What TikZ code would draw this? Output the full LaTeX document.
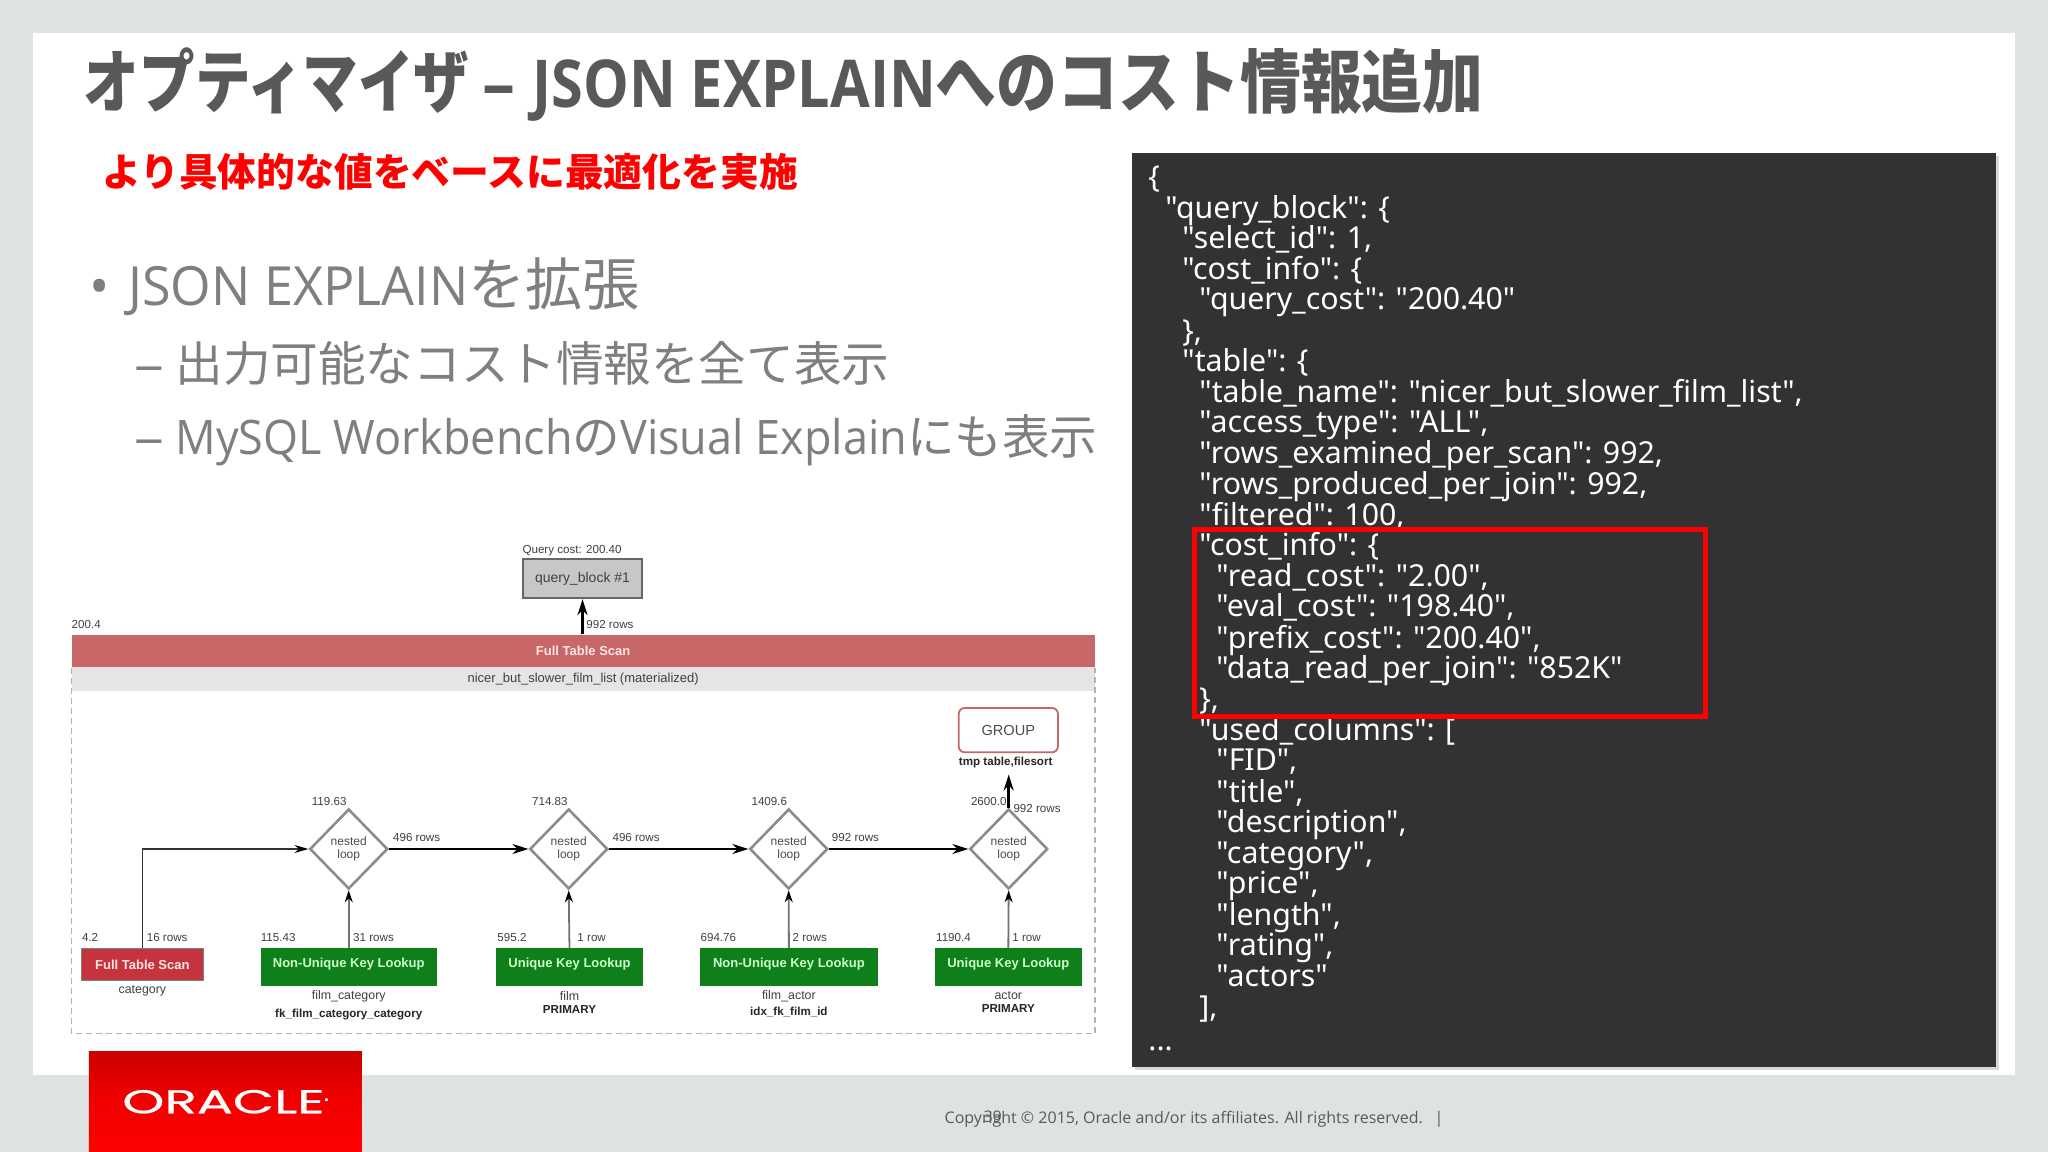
\documentclass[tikz,border=0pt]{standalone}
\usepackage{xcolor}
\usepackage{graphicx}
\usepackage{fontspec}
\setmainfont{Open Sans}
\newfontfamily\cjk{Noto Sans CJK JP}
\newfontfamily\codefont{Noto Sans}
\newfontfamily\planfont{Liberation Sans}
\newfontfamily\logofont[FakeBold=0.7]{Poppins}
\usetikzlibrary{shapes.geometric, arrows.meta, shadows}
\definecolor{pagegray}{HTML}{DDE2E2}
\definecolor{titlegray}{HTML}{595959}
\definecolor{bodygray}{HTML}{7F7F7F}
\definecolor{panelgray}{HTML}{323234}
\definecolor{scanrose}{HTML}{C76768}
\definecolor{scanred}{HTML}{C5343C}
\definecolor{keygreen}{HTML}{0F7F1A}
\tikzstyle{code} = [anchor=base west, inner sep=0pt, text=white, yshift=-0.8pt, font=\codefont\fontsize{15.15}{17}\selectfont]
\tikzstyle{small} = [inner sep=0pt, yshift=-0.6pt, text=black!75, font=\planfont\fontsize{5.8}{6.5}\selectfont]
\tikzstyle{smallbold} = [small, font=\planfont\bfseries\fontsize{5.8}{6.5}\selectfont, text=black!85]
\tikzstyle{loop} = [diamond, aspect=1, inner sep=0pt, minimum width=39pt, minimum height=40pt, align=center, draw=black!45, line width=1.3pt, fill=white, text=black!70, font=\planfont\fontsize{6}{6.2}\selectfont]
\tikzstyle{lookup} = [rectangle, inner sep=0pt, minimum height=19pt, text height=4.5pt, text depth=4.5pt, draw=none, fill=keygreen, text=green!20, font=\planfont\bfseries\fontsize{6.5}{7}\selectfont]
\tikzstyle{arrow} = [line width=1.4pt, -{Stealth[length=8pt, width=5pt]}]
\tikzstyle{feed} = [line width=0.9pt, draw=black!55, -{Stealth[black, length=6pt, width=4pt]}]
\tikzstyle{thinfeed} = [line width=0.7pt, draw=black!80, -{Stealth[black, length=7pt, width=4pt]}]
\tikzstyle{framed} = [densely dashed, draw=black!30, line width=0.7pt]
\begin{document}
\begin{tikzpicture}[x=0.6531pt, y=-0.6531pt, node distance=110pt]
      \useasboundingbox (0,0) rectangle (1568,882);
      \fill [pagegray] (0,0) rectangle (1568,882);
      \fill [white] (25,25) rectangle (1543,823);

      \node (title) [anchor=base west, inner sep=0pt, text=titlegray] at (64,82) {\fontsize{33}{36}\selectfont\bfseries\scalebox{0.805}[1]{\cjk\fontsize{34.5}{36}\selectfont オプティマイザ}\hspace{6.5pt}–\hspace{8.5pt}\scalebox{0.873}[1]{JSON EXPLAIN}\scalebox{0.882}[1]{\cjk\fontsize{34.5}{36}\selectfont へのコスト情報追加}};
      \node (lead) [anchor=base west, inner sep=0pt, text=red, font=\cjk\bfseries\fontsize{19.4}{22}\selectfont] at (78,143) {より具体的な値をベースに最適化を実施};
      \node (bulletA) [anchor=base west, inner sep=0pt, text=bodygray] at (68,234) {\fontsize{27}{30}\selectfont •};
      \node (itemA) [anchor=base west, inner sep=0pt, text=bodygray] at (98,234) {\fontsize{27}{30}\selectfont\scalebox{0.965}[1]{JSON EXPLAIN}{\cjk\fontsize{28.5}{30}\selectfont を拡張}};
      \node (dashB) [anchor=base west, inner sep=0pt, text=bodygray] at (103,292) {\fontsize{23.8}{26}\selectfont\scalebox{1.25}[1]{–}};
      \node (itemB) [anchor=base west, inner sep=0pt, text=bodygray, font=\cjk\fontsize{23.8}{26}\selectfont] at (134,292) {出力可能なコスト情報を全て表示};
      \node (dashC) [anchor=base west, inner sep=0pt, text=bodygray] at (103,348) {\fontsize{23.8}{26}\selectfont\scalebox{1.25}[1]{–}};
      \node (itemC) [anchor=base west, inner sep=0pt, text=bodygray] at (134,348) {\fontsize{23.8}{26}\selectfont\scalebox{0.945}[1]{MySQL Workbench}{\cjk の}\scalebox{0.945}[1]{Visual Explain}{\cjk にも表示}};

      \node (qcost) [small] at (438,421) {Query cost: 200.40};
      \node (qblock) [rectangle, inner sep=0pt, minimum width=59.5pt, minimum height=19.6pt, draw=black!60, line width=0.9pt, fill=black!22, text=black!75, font=\planfont\fontsize{7}{8}\selectfont] at (446,443) {query\_block \#1};
      \node (bar) [rectangle, inner sep=0pt, minimum width=511.4pt, minimum height=16.3pt, fill=scanrose, text=red!10, font=\planfont\bfseries\fontsize{6.5}{7}\selectfont] at (446.5,498.5) {Full Table Scan};
      \node (subbar) [rectangle, inner sep=0pt, minimum width=511.4pt, minimum height=11.8pt, fill=black!10, text=black!75, font=\planfont\fontsize{6.5}{7}\selectfont] at (446.5,520) {nicer\_but\_slower\_film\_list (materialized)};
      \draw [framed] (bar.south west) -- ++(0,280) -| (bar.south east);
      \node (barcost) [small] at (66,477) {200.4};
      \node (barrows) [small] at (467,477) {992 rows};

      \node (group) [rectangle, rounded corners=3pt, inner sep=0pt, minimum width=49.6pt, minimum height=22.2pt, draw=scanrose, line width=0.9pt, fill=white, text=black!70, font=\planfont\fontsize{7.3}{8}\selectfont] at (772,559) {GROUP};
      \node (grouptxt) [smallbold] at (770,583) {tmp table,filesort};

      \node (loopA) [loop] at (267,650) {nested\\loop};
      \node (loopB) [loop, right of=loopA] {nested\\loop};
      \node (loopC) [loop, right of=loopB] {nested\\loop};
      \node (loopD) [loop, right of=loopC] {nested\\loop};
      \node (costA) [small] at (252,613) {119.63};
      \node (costB) [small] at (421,613) {714.83};
      \node (costC) [small] at (589,613) {1409.6};
      \node (costD) [small] at (757,613) {2600.0};
      \node (rowsA) [small] at (319,640) {496 rows};
      \node (rowsB) [small] at (487,640) {496 rows};
      \node (rowsC) [small] at (655,640) {992 rows};
      \node (rowsD) [small] at (794,618) {992 rows};

      \node (scan) [rectangle, inner sep=0pt, minimum width=60.7pt, minimum height=16.3pt, draw=black!50, line width=0.5pt, fill=scanred, text=red!10, font=\planfont\bfseries\fontsize{6.5}{7}\selectfont] at (109,738.5) {Full Table Scan};
      \node (lookA) [lookup, minimum width=88.2pt] at (267,740.5) {Non-Unique Key Lookup};
      \node (lookB) [lookup, minimum width=73.8pt] at (436,740.5) {Unique Key Lookup};
      \node (lookC) [lookup, minimum width=88.8pt] at (604,740.5) {Non-Unique Key Lookup};
      \node (lookD) [lookup, minimum width=73.8pt] at (772,740.5) {Unique Key Lookup};

      \node (scancost) [small] at (69,717) {4.2};
      \node (scanrows) [small] at (128,717) {16 rows};
      \node (lookcostA) [small] at (213,717) {115.43};
      \node (lookrowsA) [small] at (286,717) {31 rows};
      \node (lookcostB) [small] at (392,717) {595.2};
      \node (lookrowsB) [small] at (453,717) {1 row};
      \node (lookcostC) [small] at (550,717) {694.76};
      \node (lookrowsC) [small] at (620,717) {2 rows};
      \node (lookcostD) [small] at (730,717) {1190.4};
      \node (lookrowsD) [small] at (786,717) {1 row};

      \node (scantable) [small, font=\planfont\fontsize{6.2}{7}\selectfont] at (109,758) {category};
      \node (tableA) [small, font=\planfont\fontsize{6.2}{7}\selectfont] at (267,762) {film\_category};
      \node (keyA) [smallbold] at (267,776) {fk\_film\_category\_category};
      \node (tableB) [small, font=\planfont\fontsize{6.2}{7}\selectfont] at (436,762) {film};
      \node (keyB) [smallbold] at (436,772) {PRIMARY};
      \node (tableC) [small, font=\planfont\fontsize{6.2}{7}\selectfont] at (604,762) {film\_actor};
      \node (keyC) [smallbold] at (604,774) {idx\_fk\_film\_id};
      \node (tableD) [small, font=\planfont\fontsize{6.2}{7}\selectfont] at (772,761) {actor};
      \node (keyD) [smallbold] at (772,771) {PRIMARY};

      \draw [arrow] (bar.north -| qblock.south) -- (qblock.south);
      \draw [arrow] (loopA) -- (loopB);
      \draw [arrow] (loopB) -- (loopC);
      \draw [arrow] (loopC) -- (loopD);
      \draw [arrow] (loopD.north) -- ([yshift=-3pt]loopD.north |- grouptxt.south);
      \draw [thinfeed] (scan.north) |- (loopA.west);
      \draw [feed] (lookA.north) -- (loopA.south);
      \draw [feed] (lookB.north) -- (loopB.south);
      \draw [feed] (lookC.north) -- (loopC.south);
      \draw [feed] (lookD.north) -- (loopD.south);

      \node (panel) [rectangle, inner sep=0pt, minimum width=431.7pt, minimum height=457.2pt, fill=panelgray, drop shadow={shadow xshift=1.5pt, shadow yshift=-1.5pt, opacity=0.3}] at (1197.5,467) {};
      \node (code01) [code] at (879,142) {\{};
      \node (code02) [code] at (892,166) {"query\_block": \{};
      \node (code03) [code] at (905,189) {"select\_id": 1,};
      \node (code04) [code] at (905,213) {"cost\_info": \{};
      \node (code05) [code] at (918,236) {"query\_cost": "200.40"};
      \node (code06) [code] at (905,260) {\},};
      \node (code07) [code] at (905,283) {"table": \{};
      \node (code08) [code] at (918,307) {"table\_name": "nicer\_but\_slower\_film\_list",};
      \node (code09) [code] at (918,330) {"access\_type": "ALL",};
      \node (code10) [code] at (918,354) {"rows\_examined\_per\_scan": 992,};
      \node (code11) [code] at (918,377) {"rows\_produced\_per\_join": 992,};
      \node (code12) [code] at (918,401) {"filtered": 100,};
      \node (code13) [code] at (918,424) {"cost\_info": \{};
      \node (code14) [code] at (931,448) {"read\_cost": "2.00",};
      \node (code15) [code] at (931,471) {"eval\_cost": "198.40",};
      \node (code16) [code] at (931,495) {"prefix\_cost": "200.40",};
      \node (code17) [code] at (931,518) {"data\_read\_per\_join": "852K"};
      \node (code18) [code] at (918,542) {\},};
      \node (code19) [code] at (918,566) {"used\_columns": [};
      \node (code20) [code] at (931,589) {"FID",};
      \node (code21) [code] at (931,613) {"title",};
      \node (code22) [code] at (931,636) {"description",};
      \node (code23) [code] at (931,660) {"category",};
      \node (code24) [code] at (931,683) {"price",};
      \node (code25) [code] at (931,707) {"length",};
      \node (code26) [code] at (931,730) {"rating",};
      \node (code27) [code] at (931,754) {"actors"};
      \node (code28) [code] at (918,778) {],};
      \node (code29) [code] at (879,803) {...};
      \node (mark) [rectangle, inner sep=0pt, minimum width=255.5pt, minimum height=93.5pt, draw=red, line width=2.4pt] at (1110,477) {};

      \node (logo) [rectangle, inner sep=0pt, minimum width=136.5pt, minimum height=50.3pt, top color=red!80!black, bottom color=red, middle color=red!95!black, text=white] at (172.5,843.5) {\logofont\scalebox{1.62}[1]{\fontsize{16.5}{18}\selectfont ORACLE}\raisebox{5pt}{\fontsize{3.5}{4}\selectfont ®}};
      \node (copy) [anchor=base west, inner sep=0pt, text=titlegray, font=\fontsize{8}{10}\selectfont] at (723,860) {Copyright © 2015, Oracle and/or its affiliates. All rights reserved.};
      \node (sep) [anchor=base west, inner sep=0pt, text=titlegray, font=\fontsize{8}{10}\selectfont] at (1098,860) {|};
      \node (pageno) [inner sep=0pt, text=titlegray, font=\fontsize{8}{10}\selectfont] at (760,855) {39};
    \end{tikzpicture}
\end{document}
